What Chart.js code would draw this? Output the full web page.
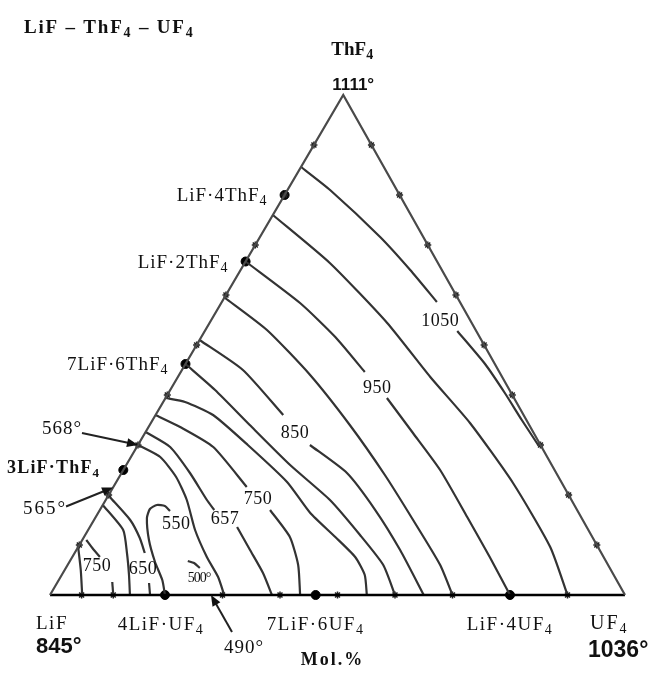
<!DOCTYPE html>
<html>
<head>
<meta charset="utf-8">
<script src="https://cdn.jsdelivr.net/npm/chart.js@4.4.1/dist/chart.umd.min.js"></script>
<style>
  html, body { margin: 0; padding: 0; background: #fff; }
  #wrap { width: 652px; height: 674px; }
</style>
</head>
<body>
<div id="wrap"><canvas id="myChart"></canvas></div>
<script>
// every point is a composition: [mol.% UF4, mol.% ThF4], the rest is LiF
const corners = [[0, 0], [0, 100], [100, 0]]; // LiF, ThF4, UF4

const compoundNames = ['LiF·4ThF_4', 'LiF·2ThF_4', '7LiF·6ThF_4', '3LiF·ThF_4', '4LiF·UF_4', '7LiF·6UF_4', 'LiF·4UF_4'];
const compoundAt = [[0, 80], [0, 66.7], [0, 46.2], [0, 25], [20, 0], [46.2, 0], [80, 0]];

// isotherms, split where the printed temperature sits in the line
const iso1050 = [[[0, 85.6], [7.4, 81], [20.9, 71.6], [29.5, 65], [37.4, 58.6]], [[43.9, 52.8], [52.1, 46.2], [58.5, 40.4], [64.2, 35], [69.6, 30]]];
const iso1000 = [[[0, 76], [14.8, 66.4], [30.9, 54.4], [43.9, 43.6], [55.5, 34.4], [69.1, 22.4], [82.1, 9.6], [90, 0]]];
const iso950 = [[[0, 66.7], [13.7, 58.4], [23.3, 51.6], [32, 44.6]], [[38.5, 39.4], [46.6, 32.4], [55.1, 25], [64.6, 15.6], [72.6, 7.6], [80, 0]]];
const iso900 = [[[0, 59.5], [10.7, 53], [22.8, 44], [34.8, 34], [46, 24], [55.5, 15], [64.8, 6], [70, 0]]];
const iso850 = [[[0, 51], [10.6, 45], [22.2, 36]], [[29.9, 30], [39.2, 24.4], [47.9, 17], [56.3, 9], [65, 0]]];
const iso800 = [[[0, 46.2], [7.8, 41], [17.4, 34], [28.5, 26], [39, 19], [47.8, 12], [54.9, 6], [60, 0]]];
const iso775 = [[[0, 39.4], [3.8, 38.6], [10, 36], [19.1, 30], [29.7, 22.6], [36.9, 16.4], [43.7, 11.6], [49.2, 7.6], [52.7, 4], [55.1, 0]]];
const iso750 = [[[0, 36], [5.5, 33.6], [13.3, 29.6], [23.2, 21.6]], [[29.6, 17], [35.8, 11.6], [40.1, 6], [43.5, 0]]];
const iso657 = [[[0, 32.6], [5.8, 29.6], [11.9, 24.4], [17.6, 19], [19.9, 17]], [[25.6, 13.6], [30.2, 9], [34.8, 4.4], [38.6, 0]]];
const iso600 = [[[0, 30], [5.1, 27.6], [9.9, 23.6], [14.1, 19], [18.6, 13], [23.4, 7.6], [27.4, 3.6], [30.3, 0]]];
const iso550 = [[[12.3, 16.8], [10.9, 17.8], [9.4, 18], [8.6, 17.2], [9, 15.4], [11.6, 11], [14.9, 6.6], [18, 3], [20, 0]]];
const iso500 = [[[20.5, 6.8], [21.8, 6.4], [23.3, 5.4]]];
// LiF primary field
const lif800 = [[[0, 9.6], [2.8, 5], [5.6, 0]]];
const lif750 = [[[0.7, 11], [2.8, 9.2], [4.8, 7.6]], [[9.5, 2.6], [11, 0]]];
const lif700 = [[[0, 18], [6.1, 13], [9.1, 8.4], [11.7, 4], [13.9, 0]]];
const lif650 = [[[0.4, 19.6], [6.3, 15], [9.8, 11.4], [12.2, 8.4]], [[16, 2.4], [17.4, 0]]];
const isotherms = [iso1050, iso1000, iso950, iso900, iso850, iso800, iso775, iso750, iso657, iso600, iso550, iso500, lif800, lif750, lif700, lif650];

const tempLabels = ['1050', '950', '850', '750', '657', '550', '500°', '750', '650'];
const tempLabelAt = [[39.8, 55], [35.7, 41.6], [26, 32.6], [26.3, 19.4], [22.6, 15.4], [14.6, 14.4], [24.1, 3.6], [5.1, 6], [13.4, 5.4]];

// measured points marked along the three binaries
const thf4Marks = [90, 80, 70, 60, 50, 40, 30, 20, 10];
const uf4Marks = [5.5, 11, 30, 40, 50, 60, 70, 90];
const eutectics = ['568°', '565°', '490°'];
const eutecticAt = [[0, 30], [0, 21.5], [28, 0]];

const SKEW = 0.51; // the printed triangle leans slightly right
const toXY = ([u, th]) => ({ x: u + SKEW * th, y: th });

const SERIF = '"Liberation Serif", "Times New Roman", serif';
const SANS = '"Liberation Sans", Arial, Helvetica, sans-serif';
const ink = '#333';
const datasets = [];
datasets.push({ data: [corners[0], corners[1], corners[2]].map(toXY), showLine: true, borderColor: '#4a4a4a', borderWidth: 2.2, pointRadius: 0 });
datasets.push({ data: [corners[0], corners[2]].map(toXY), showLine: true, borderColor: '#000', borderWidth: 2.6, pointRadius: 0 });
isotherms.forEach(curve => {
  curve.forEach(seg => {
    datasets.push({ data: seg.map(toXY), showLine: true, borderColor: ink, borderWidth: 2.2, pointRadius: 0, tension: 0.2 });
  });
});
datasets.push({
  data: thf4Marks.map(t => toXY([0, t])).concat(thf4Marks.map(t => toXY([100 - t, t]))).concat(uf4Marks.map(u => toXY([u, 0]))),
  pointStyle: 'star', pointRadius: 3.5, borderColor: '#222', borderWidth: 1.5, backgroundColor: '#222'
});
datasets.push({ data: compoundAt.map(toXY), pointRadius: 4.5, backgroundColor: '#000', borderColor: '#000' });

function richText(ctx, str, x, y, size, opts) {
  const o = Object.assign({ align: 'left', bold: false, family: SERIF, spacing: 0 }, opts);
  const parts = str.split(/(_\d)/).filter(Boolean).map(p => p[0] === '_' ? { t: p.slice(1), sub: true } : { t: p, sub: false });
  const font = sub => (o.bold ? 'bold ' : '') + (sub ? Math.round(size * 0.72) : size) + 'px ' + o.family;
  ctx.letterSpacing = o.spacing + 'px';
  let w = 0;
  parts.forEach(p => { ctx.font = font(p.sub); p.w = ctx.measureText(p.t).width; w += p.w; });
  let cx = o.align === 'center' ? x - w / 2 : o.align === 'right' ? x - w : x;
  ctx.textAlign = 'left';
  ctx.textBaseline = 'alphabetic';
  parts.forEach(p => {
    ctx.font = font(p.sub);
    ctx.fillText(p.t, cx, y + (p.sub ? size * 0.22 : 0));
    cx += p.w;
  });
  ctx.letterSpacing = '0px';
}

function arrow(ctx, x0, y0, x1, y1) {
  const a = Math.atan2(y1 - y0, x1 - x0);
  ctx.beginPath();
  ctx.moveTo(x0, y0);
  ctx.lineTo(x1 - 8 * Math.cos(a), y1 - 8 * Math.sin(a));
  ctx.stroke();
  ctx.beginPath();
  ctx.moveTo(x1, y1);
  ctx.lineTo(x1 - 11 * Math.cos(a) + 4.5 * Math.sin(a), y1 - 11 * Math.sin(a) - 4.5 * Math.cos(a));
  ctx.lineTo(x1 - 11 * Math.cos(a) - 4.5 * Math.sin(a), y1 - 11 * Math.sin(a) + 4.5 * Math.cos(a));
  ctx.closePath();
  ctx.fill();
}

const annotate = {
  id: 'annotate',
  afterDatasetsDraw(chart) {
    const { ctx, scales: { x, y } } = chart;
    const px = c => { const p = toXY(c); return [x.getPixelForValue(p.x), y.getPixelForValue(p.y)]; };
    ctx.save();
    ctx.fillStyle = '#111';
    ctx.strokeStyle = '#222';
    ctx.lineWidth = 2;

    richText(ctx, 'LiF – ThF_4 – UF_4', 24, 33, 19, { bold: true, spacing: 1.8 });

    const [ax, ay] = px(corners[1]);
    richText(ctx, 'ThF_4', ax + 9, ay - 40, 19, { align: 'center', bold: true });
    richText(ctx, '1111°', ax + 10, ay - 5, 17, { align: 'center', bold: true, family: SANS });
    const [lx, ly] = px(corners[0]);
    richText(ctx, 'LiF', lx - 14, ly + 34, 19, { spacing: 1.5 });
    richText(ctx, '845°', lx - 14, ly + 58, 22, { bold: true, family: SANS });
    const [ux, uy] = px(corners[2]);
    richText(ctx, 'UF_4', ux - 35, uy + 34, 20, { spacing: 2 });
    richText(ctx, '1036°', ux - 37, uy + 62, 23, { bold: true, family: SANS });
    richText(ctx, 'Mol.%', (lx + ux) / 2 - 5, ly + 70, 18, { align: 'center', bold: true, spacing: 2 });

    // compound names beside their dots
    compoundNames.forEach((name, i) => {
      const [cx, cy] = px(compoundAt[i]);
      if (i === 3) richText(ctx, name, 7, cy + 3, 18, { bold: true, spacing: 1.2 });
      else if (compoundAt[i][0] === 0) richText(ctx, name, cx - 17, cy + 6, 19, { align: 'right', spacing: 1 });
      else richText(ctx, name, cx - (i === 4 ? 4 : 0), cy + 35, 19, { align: 'center', spacing: 1.5 });
    });

    tempLabels.forEach((t, i) => {
      const [cx, cy] = px(tempLabelAt[i]);
      const small = t.indexOf('°') > 0;
      richText(ctx, t, cx, cy + (small ? 5 : 6), small ? 14 : 18, { align: 'center', spacing: small ? -1 : 0.5 });
    });

    // eutectic points: text with an arrow to the point
    const tails = [[-56, -12], [-47, 19], [21, 37]];
    eutectics.forEach((t, i) => {
      const [tx, ty] = px(eutecticAt[i]);
      const [ox, oy] = tails[i];
      arrow(ctx, tx + ox, ty + oy, tx, ty);
      if (i === 0) richText(ctx, t, tx + ox, ty + oy + 1, 19, { align: 'right', spacing: 1 });
      else if (i === 1) richText(ctx, t, tx + ox + 1, ty + oy + 7, 19, { align: 'right', spacing: 2 });
      else richText(ctx, t, tx + ox + 12, ty + oy + 21, 19, { align: 'center', spacing: 1 });
    });
    ctx.restore();
  }
};

const ctx = document.getElementById('myChart').getContext('2d');
const myChart = new Chart(ctx, {
  type: 'scatter',
  data: { datasets: datasets.map(d => Object.assign({ clip: false }, d)) },
  options: {
    responsive: true,
    maintainAspectRatio: false,
    animation: false,
    events: [],
    layout: { padding: { left: 50, right: 27, top: 95, bottom: 79 } },
    scales: {
      x: { type: 'linear', min: 0, max: 100, display: false },
      y: { type: 'linear', min: 0, max: 100, display: false }
    },
    plugins: { legend: { display: false }, tooltip: { enabled: false } }
  },
  plugins: [annotate]
});
</script>
</body>
</html>
